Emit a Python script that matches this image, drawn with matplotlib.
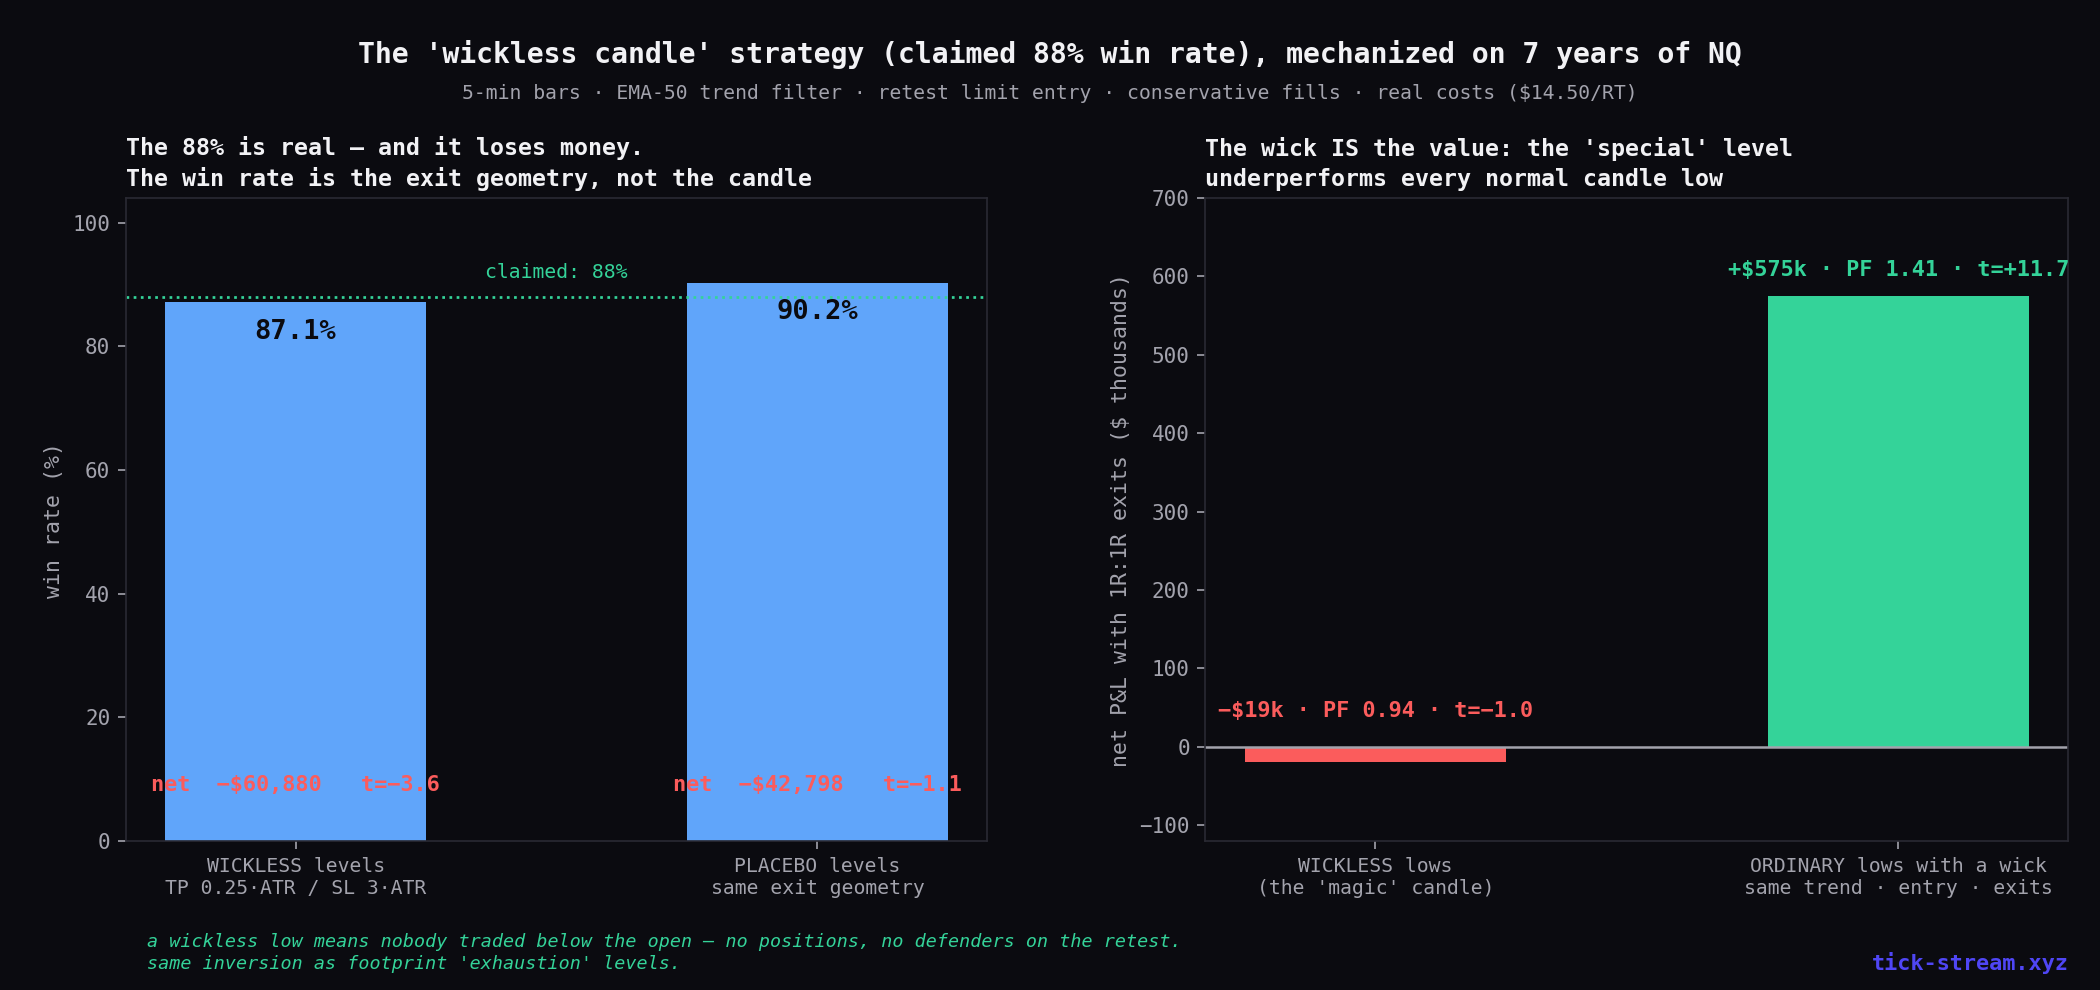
import matplotlib
matplotlib.use("Agg")
from matplotlib import pyplot as plt

# left panel: win rate
win_labels = ["WICKLESS levels\nTP 0.25·ATR / SL 3·ATR", "PLACEBO levels\nsame exit geometry"]
win_rate = [87.1, 90.2]
net_usd = [-60880, -42798]
t_stat = [-3.6, -1.1]
claimed = 88

# right panel: 1R:1R exits
pnl_labels = ["WICKLESS lows\n(the 'magic' candle)", "ORDINARY lows with a wick\nsame trend · entry · exits"]
pnl_k = [-19, 575]
pf = [0.94, 1.41]
pnl_t = [-1.0, 11.7]

BG = "#0b0b10"
FG = "#f2f2f5"
GRAY = "#a3a3ad"
SPINE = "#2a2a33"
BLUE = "#60a5fa"
GREEN = "#34d399"
RED = "#fb5c5c"
VIOLET = "#4f46f5"

plt.rcParams["font.family"] = ["DejaVu Sans Mono"]

fig = plt.figure(figsize=(14, 6.6), dpi=150, facecolor=BG)
ax1 = fig.add_axes([0.060, 0.1505, 0.410, 0.6495])
ax2 = fig.add_axes([0.574, 0.1505, 0.411, 0.6495])

for ax in (ax1, ax2):
    ax.set_facecolor(BG)
    for s in ax.spines.values():
        s.set_color(SPINE)
    ax.tick_params(colors=GRAY, labelsize=10, length=4)
    ax.tick_params(axis="x", labelsize=9.5)

def fmt_money(v):
    sign = "−" if v < 0 else ""
    return f"{sign}${abs(v):,.0f}"

# left
x = range(len(win_rate))
ax1.bar(x, win_rate, width=0.5, color=BLUE)
ax1.axhline(claimed, color=GREEN, ls=":", lw=1.3)
ax1.text(0.5, claimed + 2.4, f"claimed: {claimed}%", color=GREEN, fontsize=9.5,
         ha="center", va="bottom")
for i, v in enumerate(win_rate):
    ax1.text(i, v - 2.6, f"{v}%", color="#0b0b10", fontsize=13, fontweight="bold",
             ha="center", va="top")
    ts = "−" if t_stat[i] < 0 else ""
    ax1.text(i, 9, f"net  {fmt_money(net_usd[i])}   t={ts}{abs(t_stat[i]):.1f}",
             color=RED, fontsize=10.5, fontweight="bold", ha="center", va="center")
ax1.set_ylim(0, 104)
ax1.set_xticks(list(x))
ax1.set_xticklabels(win_labels, color=GRAY)
ax1.set_ylabel("win rate (%)", color=GRAY, fontsize=10.3)
ax1.set_title("The 88% is real — and it loses money.\nThe win rate is the exit geometry, not the candle",
              loc="left", color=FG, fontsize=11.2, fontweight="bold", linespacing=1.35)

# right
x2 = range(len(pnl_k))
cols = [RED if v < 0 else GREEN for v in pnl_k]
ax2.bar(x2, pnl_k, width=0.5, color=cols)
ax2.axhline(0, color=GRAY, lw=1.2)
for i, v in enumerate(pnl_k):
    sign = "−" if v < 0 else "+"
    ts = "−" if pnl_t[i] < 0 else "+"
    lab = f"{sign}${abs(v)}k · PF {pf[i]:.2f} · t={ts}{abs(pnl_t[i]):.1f}"
    ax2.text(i, max(v, 0) + (21 if v > 0 else 33), lab, color=cols[i], fontsize=10.5,
             fontweight="bold", ha="center", va="bottom")
ax2.set_ylim(-120, 700)
ax2.set_xticks(list(x2))
ax2.set_xticklabels(pnl_labels, color=GRAY)
ax2.set_ylabel("net P&L with 1R:1R exits ($ thousands)", color=GRAY, fontsize=10.3)
ax2.set_title("The wick IS the value: the 'special' level\nunderperforms every normal candle low",
              loc="left", color=FG, fontsize=11.2, fontweight="bold", linespacing=1.35)

fig.text(0.5, 0.945, "The 'wickless candle' strategy (claimed 88% win rate), mechanized on 7 years of NQ",
         ha="center", va="center", color=FG, fontsize=13.5, fontweight="bold")
fig.text(0.5, 0.906, "5-min bars · EMA-50 trend filter · retest limit entry · conservative fills · real costs ($14.50/RT)",
         ha="center", va="center", color=GRAY, fontsize=9.5)
fig.text(0.07, 0.017, "a wickless low means nobody traded below the open — no positions, no defenders on the retest.\n"
         "same inversion as footprint 'exhaustion' levels.",
         ha="left", va="bottom", color=GREEN, fontsize=8.8, style="italic", linespacing=1.3)
fig.text(0.985, 0.016, "tick-stream.xyz", ha="right", va="bottom", color=VIOLET,
         fontsize=10.5, fontweight="bold")

fig.savefig("out.png", dpi=150, facecolor=BG)
